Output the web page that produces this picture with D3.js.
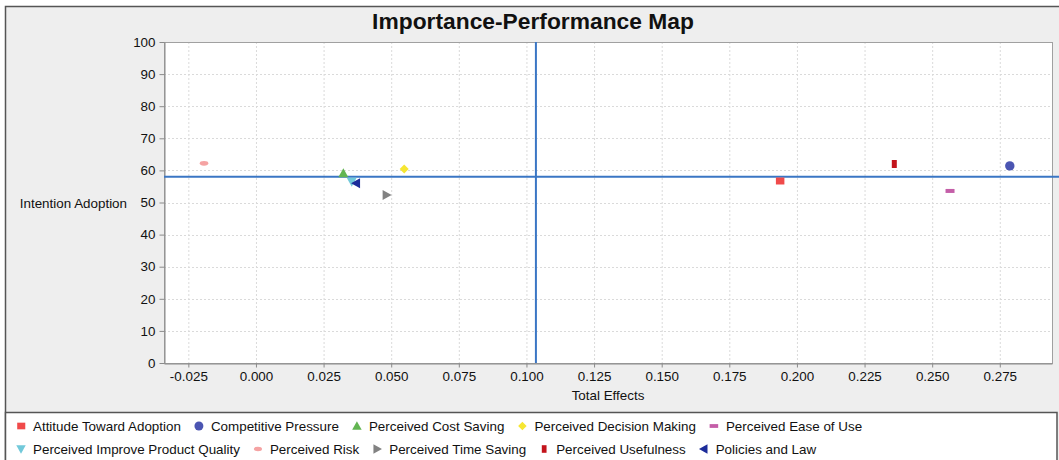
<!DOCTYPE html>
<html><head><meta charset="utf-8">
<script src="https://cdn.jsdelivr.net/npm/d3@7"></script>
<style>body{margin:0;background:#fff} text{font-family:"Liberation Sans",Arial,sans-serif;fill:#111}</style>
</head><body><svg id="c" width="1059" height="460"></svg>
<script>
const title = "Importance-Performance Map";
const xLabel = "Total Effects";
const yLabel = "Intention Adoption";
const categories = ["Attitude Toward Adoption","Competitive Pressure","Perceived Cost Saving","Perceived Decision Making","Perceived Ease of Use","Perceived Improve Product Quality","Perceived Risk","Perceived Time Saving","Perceived Usefulness","Policies and Law"];
const totalEffects = [0.1937, 0.2787, 0.0323, 0.0548, 0.2566, 0.0354, -0.0192, 0.0483, 0.2360, 0.0370];
const performance = [56.7, 61.4, 59.1, 60.4, 53.6, 56.5, 62.2, 52.3, 62.0, 56.0];
const colors = ["#f04a4a","#4b55b2","#62b552","#f6e632","#c45ea8","#72c9da","#f5a3a3","#828282","#c3141c","#1c2c9a"];
const xTicks = [-0.025,0,0.025,0.05,0.075,0.1,0.125,0.15,0.175,0.2,0.225,0.25,0.275];
const yTicks = [0,10,20,30,40,50,60,70,80,90,100];
const meanTotalEffect = 0.1035;
const meanPerformance = 58.0;

const svg = d3.select("#c");
const W = 1059, H = 460;
const L = 164, R = 1052, T = 42, B = 363;
const FS = "13.4px";

svg.append("rect").attr("x",5.5).attr("y",6.5).attr("width",W).attr("height",H).attr("fill","#eeeeee").attr("stroke","#555").attr("stroke-width",1.5);

svg.append("text").attr("x",533).attr("y",29).attr("text-anchor","middle")
  .style("font-size","22.8px").style("font-weight","bold").text(title);

const x = d3.scaleLinear().domain([-0.034, 0.2943]).range([L, R]);
const y = d3.scaleLinear().domain([0, 100]).range([B, T]);

svg.append("rect").attr("x",L).attr("y",T).attr("width",R-L).attr("height",B-T).attr("fill","#fff");

// gridlines
const g = svg.append("g");
g.selectAll(".vg").data(xTicks).join("line")
  .attr("x1",d=>x(d)+0.5).attr("x2",d=>x(d)+0.5).attr("y1",T).attr("y2",B)
  .attr("stroke","#dadada").attr("stroke-dasharray","2,2");
g.selectAll(".hg").data(yTicks).join("line")
  .attr("y1",d=>Math.round(y(d))+0.5).attr("y2",d=>Math.round(y(d))+0.5).attr("x1",L).attr("x2",R)
  .attr("stroke","#dadada").attr("stroke-dasharray","2,2");

svg.append("rect").attr("x",L+0.5).attr("y",T+0.5).attr("width",R-L).attr("height",B-T)
  .attr("fill","none").attr("stroke","#a0a0a0");

// axes
const fmt = d => d3.format(".3f")(d).replace("\u2212","-");
const xAxis = svg.append("g").attr("transform",`translate(0,${B+0.5})`)
  .call(d3.axisBottom(x).tickValues(xTicks).tickFormat(fmt).tickSizeInner(4).tickSizeOuter(0).tickPadding(4));
const yAxis = svg.append("g").attr("transform",`translate(${L+0.5},0)`)
  .call(d3.axisLeft(y).tickValues(yTicks).tickSizeInner(5).tickSizeOuter(0).tickPadding(4));
[xAxis,yAxis].forEach(a=>{
  a.select(".domain").attr("stroke","#8a8a8a");
  a.selectAll(".tick line").attr("stroke","#8a8a8a");
  a.selectAll("text").style("font-size",FS).style("font-family","'Liberation Sans',Arial,sans-serif").attr("fill","#111");
});

svg.append("text").attr("x",(L+R)/2).attr("y",400).attr("text-anchor","middle").style("font-size",FS).text(xLabel);
svg.append("text").attr("x",127).attr("y",(T+B)/2+5).attr("text-anchor","end").style("font-size",FS).text(yLabel);

// reference lines
svg.append("line").attr("x1",x(meanTotalEffect)).attr("x2",x(meanTotalEffect)).attr("y1",T).attr("y2",B)
  .attr("stroke","#3a76c4").attr("stroke-width",2);
svg.append("line").attr("y1",y(meanPerformance)).attr("y2",y(meanPerformance)).attr("x1",L).attr("x2",W)
  .attr("stroke","#3a76c4").attr("stroke-width",2);

// shapes
const shapes = [
  "M-4,-3.5H4.5V3.5H-4Z",
  null,
  "M0,-5L5,4L-5,4Z",
  "M0,-4.5L4.5,0L0,4.5L-4.5,0Z",
  "M-4.5,-2H4.5V2H-4.5Z",
  "M-5,-4L5,-4L0,5Z",
  "ell",
  "M-4,-5L5,0L-4,5Z",
  "M-2.5,-4H2.5V4H-2.5Z",
  "M4,-5L-5,0L4,5Z"
];
function drawShape(sel, i, s) {
  if (i === 1) sel.append("circle").attr("r",4.7*s).attr("fill",colors[i]);
  else if (i === 6) sel.append("ellipse").attr("rx",4.3*s).attr("ry",2.3*s).attr("fill",colors[i]);
  else sel.append("path").attr("d",shapes[i]).attr("transform",`scale(${s})`).attr("fill",colors[i]);
}
const pts = svg.append("g");
categories.forEach((c,i)=>{
  const gp = pts.append("g").attr("transform",`translate(${x(totalEffects[i])},${y(performance[i])})`);
  drawShape(gp,i,1);
});

// legend
svg.append("rect").attr("x",5.5).attr("y",412.5).attr("width",1051.5).attr("height",60)
  .attr("fill","#fff").attr("stroke","#555").attr("stroke-width",1.5);
const rows = [[0,1,2,3,4],[5,6,7,8,9]];
const rowY = [426, 449];
rows.forEach((r,ri)=>{
  let cx = 21;
  r.forEach(i=>{
    const lg = svg.append("g").attr("transform",`translate(${cx},${rowY[ri]})`);
    drawShape(lg,i,0.95);
    const t = lg.append("text").attr("x",12).attr("y",4.8).style("font-size",FS).text(categories[i]);
    cx += 12 + t.node().getComputedTextLength() + 18;
  });
});
</script></body></html>
